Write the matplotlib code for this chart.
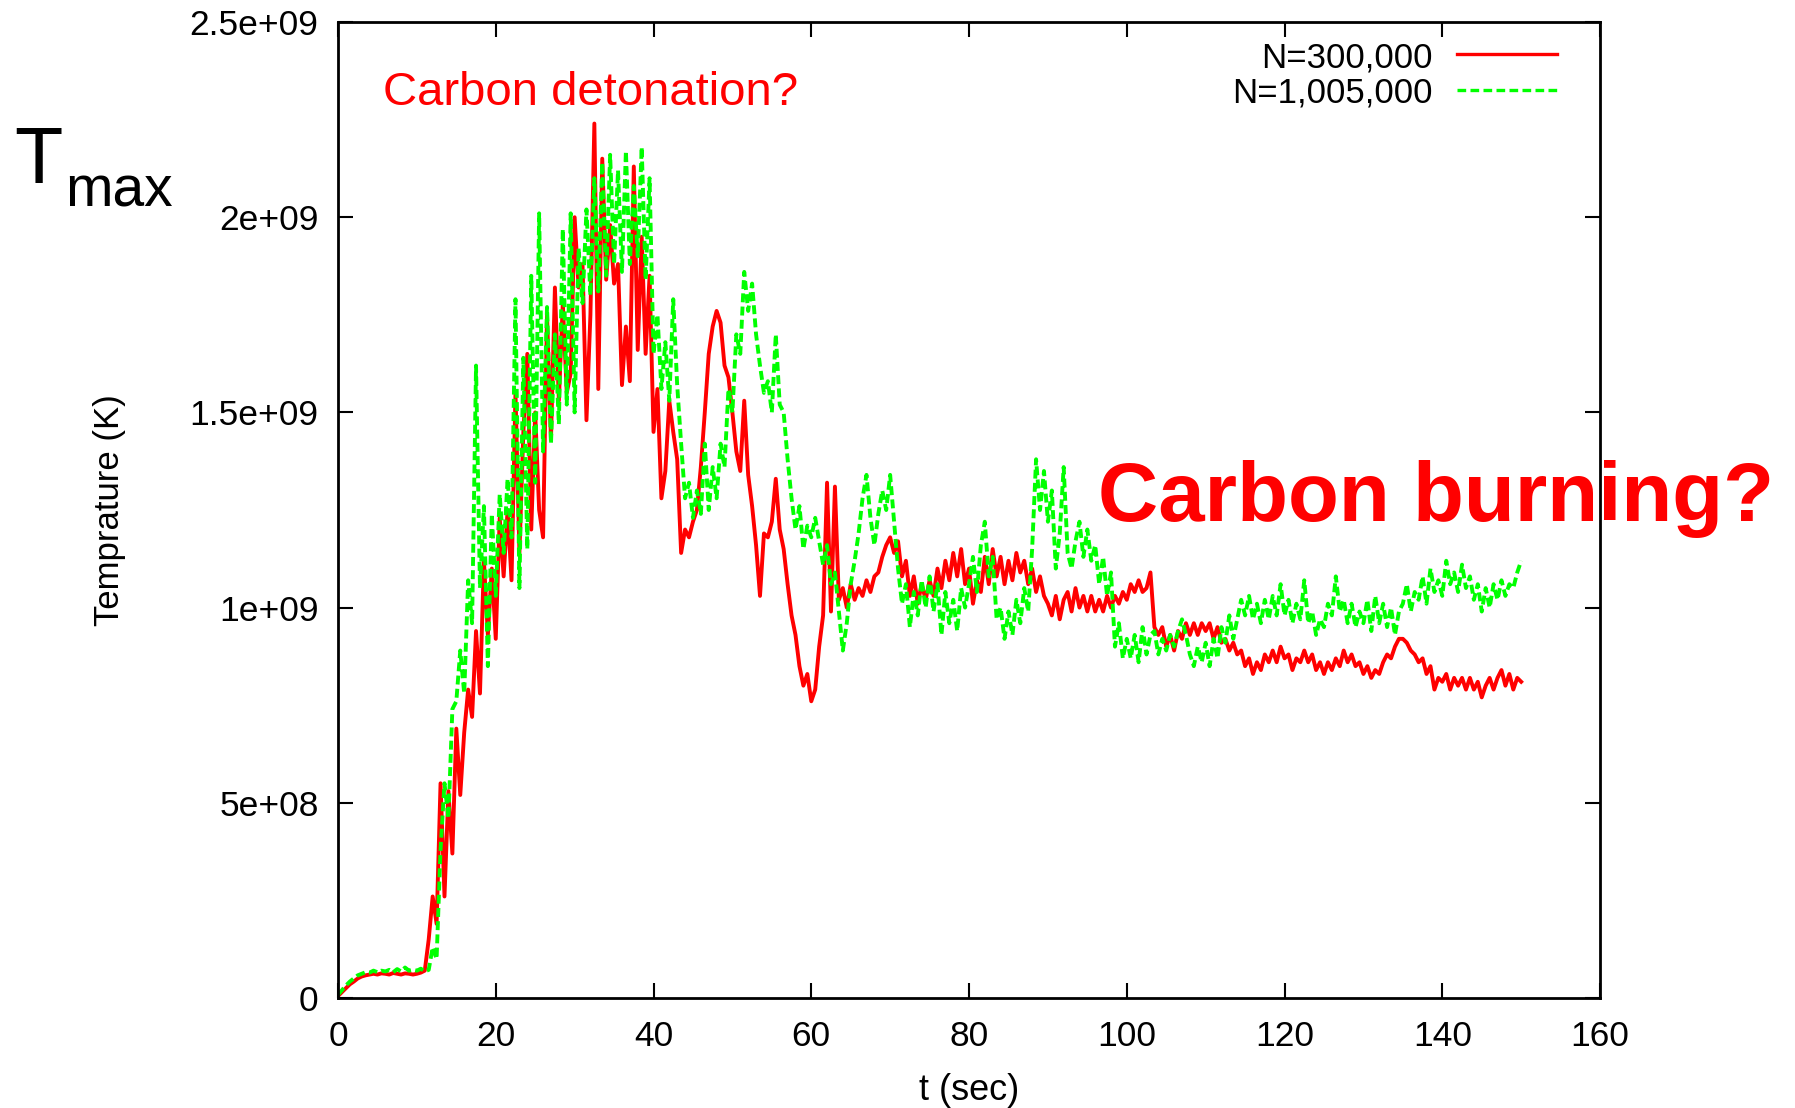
import matplotlib
matplotlib.use("Agg")
import matplotlib.pyplot as plt
from matplotlib.lines import Line2D
import numpy as np

plt.rcParams['font.family'] = ['Liberation Sans', 'DejaVu Sans']

# time axis, one sample every 0.5 s from 0 to 150 s
t = np.arange(0, 150.5, 0.5)

# Tmax for N=300,000 (units of 1e8 K), one row per 5 s
T_300k = [
    0.05, 0.15, 0.25, 0.35, 0.42, 0.50, 0.55, 0.58, 0.60, 0.62,
    0.60, 0.63, 0.62, 0.60, 0.64, 0.62, 0.60, 0.63, 0.62, 0.60,
    0.62, 0.65, 0.70, 1.5, 2.6, 1.9, 5.5, 2.6, 5.3, 3.7,
    6.9, 5.2, 6.8, 7.9, 7.2, 9.4, 7.8, 11.2, 9.3, 11.0,
    9.2, 12.3, 10.8, 12.5, 10.7, 15.5, 11.4, 14.5, 16.5, 12.0,
    15.0, 12.5, 11.8, 17.5, 14.3, 18.2, 15.3, 17.8, 15.5, 16.0,
    20.0, 18.2, 18.8, 14.8, 17.5, 22.4, 15.6, 21.5, 18.4, 19.8,
    18.3, 18.8, 15.7, 17.2, 15.8, 21.3, 16.6, 19.5, 16.5, 18.5,
    14.5, 15.6, 12.8, 13.5, 15.3, 14.5, 13.8, 11.4, 12.0, 11.8,
    12.2, 12.5, 13.6, 15.0, 16.5, 17.2, 17.6, 17.3, 16.2, 15.9,
    15.0, 14.0, 13.5, 15.3, 13.4, 12.6, 11.6, 10.3, 11.9, 11.8,
    12.2, 13.3, 12.0, 11.5, 10.6, 9.8, 9.3, 8.5, 8.0, 8.3,
    7.6, 7.9, 9.0, 9.8, 13.2, 9.9, 13.1, 10.2, 10.5, 10.0,
    10.6, 10.2, 10.5, 10.3, 10.7, 10.4, 10.8, 10.9, 11.3, 11.6,
    11.8, 11.4, 11.7, 10.8, 11.2, 10.3, 10.8, 10.1, 10.6, 10.2,
    10.7, 10.3, 11.0, 10.5, 11.2, 10.7, 11.4, 10.8, 11.5, 10.6,
    11.0, 10.1, 10.7, 10.4, 11.3, 10.6, 11.5, 10.8, 11.3, 10.6,
    11.2, 10.7, 11.4, 10.9, 11.2, 10.6, 11.0, 10.4, 10.8, 10.3,
    10.1, 9.8, 10.3, 9.7, 10.2, 10.4, 9.9, 10.5, 10.0, 10.3,
    9.9, 10.3, 9.9, 10.2, 9.9, 10.3, 10.0, 10.3, 10.1, 10.4,
    10.2, 10.6, 10.4, 10.7, 10.4, 10.5, 10.9, 9.5, 9.3, 9.5,
    9.0, 9.3, 8.9, 9.4, 9.2, 9.6, 9.3, 9.6, 9.3, 9.6,
    9.4, 9.6, 9.2, 9.5, 9.1, 9.2, 8.9, 9.1, 8.8, 8.9,
    8.5, 8.7, 8.3, 8.6, 8.4, 8.8, 8.6, 8.9, 8.6, 9.0,
    8.7, 8.8, 8.4, 8.7, 8.6, 8.9, 8.6, 8.8, 8.4, 8.6,
    8.3, 8.6, 8.4, 8.7, 8.5, 8.9, 8.6, 8.8, 8.5, 8.6,
    8.3, 8.5, 8.2, 8.4, 8.3, 8.6, 8.8, 8.7, 9.0, 9.2,
    9.2, 9.1, 8.9, 8.8, 8.6, 8.7, 8.3, 8.5, 7.9, 8.2,
    8.1, 8.3, 7.9, 8.2, 8.0, 8.2, 7.9, 8.2, 7.9, 8.1,
    7.7, 8.0, 8.2, 7.9, 8.2, 8.4, 8.0, 8.3, 7.9, 8.2,
    8.1,
]

# Tmax for N=1,005,000 (units of 1e8 K)
T_1005k = [
    0.08, 0.20, 0.32, 0.42, 0.50, 0.58, 0.62, 0.66, 0.65, 0.70,
    0.66, 0.70, 0.68, 0.72, 0.66, 0.74, 0.68, 0.78, 0.70, 0.72,
    0.70, 0.75, 0.68, 0.72, 1.3, 1.0, 3.8, 5.5, 4.6, 7.4,
    7.6, 8.9, 7.8, 10.7, 9.6, 16.2, 10.5, 12.6, 8.5, 12.4,
    10.3, 12.9, 11.4, 13.3, 11.8, 17.9, 10.5, 16.4, 11.5, 18.5,
    13.2, 20.1, 14.0, 17.7, 14.2, 17.0, 14.7, 19.7, 15.2, 20.1,
    15.0, 19.2, 17.8, 20.2, 18.0, 21.0, 18.1, 21.4, 18.5, 21.6,
    18.8, 21.2, 18.6, 21.7, 18.8, 20.8, 19.0, 21.8, 18.4, 21.0,
    16.5, 17.5, 15.6, 16.8, 15.3, 17.9, 15.7, 14.2, 12.8, 13.2,
    12.3, 13.0, 12.4, 14.2, 12.5, 13.6, 12.8, 14.2, 13.6, 15.6,
    15.0, 17.0, 16.5, 18.6, 17.6, 18.3, 17.0, 16.2, 15.5, 15.8,
    15.0, 17.0, 15.2, 15.0, 13.8, 12.8, 12.0, 12.6, 11.5, 12.1,
    11.8, 12.3, 11.7, 11.1, 11.6, 10.6, 10.9, 9.9, 8.9, 9.6,
    10.6, 11.2, 11.9, 12.8, 13.4, 12.3, 11.6, 12.4, 13.0, 12.5,
    13.4, 12.2, 11.0, 10.1, 10.6, 9.5, 10.4, 9.8, 10.7, 10.0,
    10.8, 9.9, 10.6, 9.3, 10.4, 9.6, 10.2, 9.4, 10.5, 10.0,
    10.6, 11.3, 10.4, 11.6, 12.2, 10.8, 11.3, 9.7, 10.0, 9.2,
    9.9, 9.3, 10.2, 9.6, 10.5, 9.9, 11.5, 13.8, 12.5, 13.5,
    12.2, 13.0, 11.0, 11.9, 13.6, 11.4, 11.0, 11.7, 12.2, 11.3,
    12.0, 11.2, 11.6, 10.6, 11.3, 10.3, 10.9, 9.0, 9.6, 8.7,
    9.2, 8.7, 9.3, 8.6, 9.5, 8.8, 9.3, 9.4, 8.8, 9.2,
    8.9, 9.3, 9.0, 9.4, 9.7, 9.3, 8.8, 8.5, 9.0, 8.6,
    9.1, 8.5, 9.2, 8.7, 9.5, 9.1, 9.8, 9.2, 9.7, 10.2,
    9.8, 10.3, 9.7, 10.1, 9.6, 10.2, 9.7, 10.3, 9.8, 10.6,
    9.8, 10.2, 9.6, 10.1, 9.7, 10.7, 9.6, 9.9, 9.3, 9.7,
    9.5, 10.1, 9.8, 10.8, 9.9, 10.2, 9.6, 10.1, 9.5, 9.9,
    9.6, 10.2, 9.4, 10.3, 9.6, 10.1, 9.5, 10.0, 9.3, 9.9,
    10.1, 10.6, 9.9, 10.4, 10.2, 10.8, 10.1, 11.0, 10.4, 10.7,
    10.3, 11.2, 10.6, 10.9, 10.4, 11.1, 10.5, 10.8, 10.2, 10.6,
    9.9, 10.5, 10.0, 10.6, 10.2, 10.7, 10.3, 10.6, 10.5, 10.9,
    11.2,
]

labels = ['N=300,000', 'N=1,005,000']
xticks = [0, 20, 40, 60, 80, 100, 120, 140, 160]
yticks = [0, 5e8, 1e9, 1.5e9, 2e9, 2.5e9]
ytick_labels = ['0', '5e+08', '1e+09', '1.5e+09', '2e+09', '2.5e+09']

red = '#ff0000'
green = '#00ff00'

fig = plt.figure(figsize=(17.95, 11.08), dpi=100)
ax = fig.add_axes([0.1883, 0.0993, 0.7031, 0.8808])

ax.plot(t, np.array(T_300k) * 1e8, color=red, lw=2.8)
ax.plot(t, np.array(T_1005k) * 1e8, color=green, lw=2.8, dashes=(2.3, 1.1))

ax.set_xlim(0, 160)
ax.set_ylim(0, 2.5e9)
ax.set_xticks(xticks)
ax.set_yticks(yticks)
ax.set_yticklabels(ytick_labels)
ax.tick_params(direction='in', length=11, width=1.5, labelsize=25.5, pad=14,
               top=True, right=True)
ax.tick_params(axis='x', pad=16)
for s in ax.spines.values():
    s.set_linewidth(2)

ax.set_xlabel('t (sec)', fontsize=26, labelpad=14)
ax.set_ylabel('Temprature (K)', fontsize=25, labelpad=46)

# key in top-right corner, gnuplot style (text right-aligned, sample after)
ax.text(0.8677, 0.9539, labels[0], transform=ax.transAxes, ha='right',
        va='baseline', fontsize=25)
ax.text(0.8677, 0.9180, labels[1], transform=ax.transAxes, ha='right',
        va='baseline', fontsize=25)
ax.add_line(Line2D([0.8867, 0.9659], [0.9672, 0.9672], transform=ax.transAxes,
                   color=red, lw=2.4))
ax.add_line(Line2D([0.8867, 0.9659], [0.9303, 0.9303], transform=ax.transAxes,
                   color=green, lw=2.4, dashes=(2.6, 1.3)))

# annotations
ax.text(0.0355, 0.915, 'Carbon detonation?', transform=ax.transAxes,
        color=red, fontsize=34, va='baseline')
fig.text(0.6115, 0.5298, 'Carbon burning?', color=red, fontsize=60,
         fontweight='bold', va='baseline')
fig.text(0.0078, 0.835, 'T', fontsize=57, va='baseline')
fig.text(0.0362, 0.814, 'max', fontsize=41, va='baseline')

fig.savefig('out.png', dpi=100)
